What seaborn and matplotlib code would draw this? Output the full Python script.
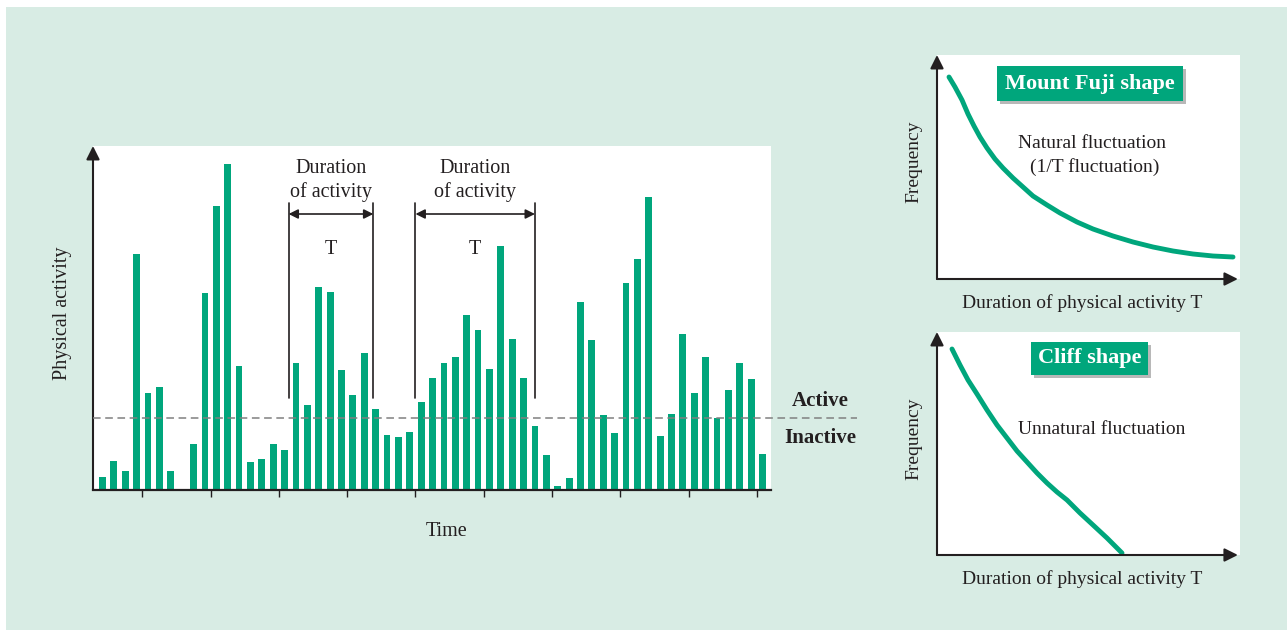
import matplotlib
matplotlib.use("Agg")
import matplotlib.pyplot as plt
import seaborn as sns
from matplotlib.patches import Rectangle

# bar heights, one slot per time step (0 = no bar)
activity = [13, 29, 19, 236, 97, 103, 19, 0, 46, 197, 284, 326, 124, 28, 31, 46, 40,
            127, 85, 203, 198, 120, 95, 137, 81, 55, 53, 58, 88, 112, 127, 133, 175,
            160, 121, 244, 151, 112, 64, 35, 4, 12, 188, 150, 75, 57, 207, 231, 293,
            54, 76, 156, 97, 133, 72, 100, 127, 111, 36]
time_steps = list(range(len(activity)))
threshold = 72
tick_slots = [3.5, 9.5, 15.5, 21.5, 27.5, 33.5, 39.5, 45.5, 51.5, 57.5]
# "Duration of activity" brackets (start slot, end slot)
spans = [(16.35, 23.8), (27.5, 38.0)]

# right panels: frequency vs duration
fuji_t = [12, 18, 25, 31, 37, 43, 50, 58, 66, 76, 86, 96, 110, 123, 140, 156, 176,
          196, 216, 236, 256, 276, 296]
fuji_f = [202, 192, 179, 165, 153, 142, 131, 120, 111, 101, 92, 83, 74, 66, 57, 50,
          43, 37, 32, 28, 25, 23, 22]
cliff_t = [15, 23, 31, 40, 50, 60, 70, 80, 90, 100, 110, 120, 130, 143, 156, 170, 185]
cliff_f = [206, 190, 175, 161, 145, 130, 117, 104, 93, 82, 72, 63, 55, 42, 30, 17, 2]

GREEN = '#00a67c'
BG = '#d8ece4'
INK = '#231f20'

sns.set_style("white")
plt.rcParams['font.family'] = ['Liberation Serif', 'DejaVu Serif']
plt.rcParams['text.color'] = INK

W, H = 1287, 630
fig = plt.figure(figsize=(W / 100, H / 100), dpi=100)
fig.patch.set_facecolor('white')
fig.patches.append(Rectangle((6 / W, 0), 1, (H - 7) / H, transform=fig.transFigure,
                             facecolor=BG, edgecolor='none', zorder=-10))


def fx(px):
    return px / W


def fy(py):
    return 1 - py / H


def axes_at(x0, y0, x1, y1):
    # pixel box (top-left origin) -> axes
    return fig.add_axes([fx(x0), fy(y1), fx(x1 - x0), (y1 - y0) / H])


def fig_box(x0, y0, x1, y1, color, z, alpha=1.0):
    fig.patches.append(Rectangle((fx(x0), fy(y1)), fx(x1 - x0), (y1 - y0) / H,
                                 transform=fig.transFigure, facecolor=color,
                                 edgecolor='none', zorder=z, alpha=alpha))


def axis_arrow(ax, xy, xytext):
    ax.annotate('', xy=xy, xytext=xytext, xycoords='axes fraction',
                textcoords='axes fraction',
                arrowprops=dict(arrowstyle='-|>', color=INK, lw=1.5,
                                mutation_scale=20, shrinkA=0, shrinkB=0))


# ---- main bar chart ----
ax = axes_at(93, 146, 771, 490)
ax.set_facecolor('white')
sns.barplot(x=time_steps, y=activity, color=GREEN, saturation=1, width=0.6,
            linewidth=0, ax=ax)
ax.set_xlim(-0.835, 58.74)
ax.set_ylim(0, 344)
ax.set_xticks(tick_slots)
ax.set_xticklabels([])
ax.set_yticks([])
ax.set_xlabel('')
ax.set_ylabel('')
for s in ['top', 'right', 'left']:
    ax.spines[s].set_visible(False)
ax.spines['bottom'].set_linewidth(1.6)
ax.spines['bottom'].set_color(INK)
ax.tick_params(axis='x', direction='out', length=5, width=1, color=INK, bottom=True)
axis_arrow(ax, (0, 1.0), (0, 0))

ax.axhline(threshold, xmin=0, xmax=1.127, color='#808080', lw=1.1,
           ls=(0, (5, 3)), clip_on=False, zorder=3)
ax.text(63.05, 89, 'Active', ha='center', va='center', fontsize=15, fontweight='bold')
ax.text(63.05, 52, 'Inactive', ha='center', va='center', fontsize=15, fontweight='bold')

for a, b in spans:
    for x in (a, b):
        ax.plot([x, x], [92, 287], color=INK, lw=1.2)
    ax.annotate('', xy=(b, 276), xytext=(a, 276),
                arrowprops=dict(arrowstyle='<|-|>', color=INK, lw=1.2,
                                mutation_scale=14, shrinkA=0, shrinkB=0))
    mid = (a + b) / 2
    ax.text(mid, 322, 'Duration', ha='center', va='center', fontsize=14.5)
    ax.text(mid, 298, 'of activity', ha='center', va='center', fontsize=14.5)
    ax.text(mid, 241, 'T', ha='center', va='center', fontsize=14.5)

fig.text(fx(62), fy(313), 'Physical activity', rotation=90, ha='center', va='center',
         fontsize=14.5)
fig.text(fx(447), fy(531), 'Time', ha='center', va='center', fontsize=14.5)


# ---- right panels ----
def shape_panel(y0, y1, t, f, title, title_box, notes):
    pax = axes_at(937, y0, 1240, y1)
    pax.set_facecolor('white')
    sns.lineplot(x=t, y=f, color=GREEN, lw=3.5, ax=pax)
    pax.set_xlim(0, 303)
    pax.set_ylim(0, y1 - y0)
    pax.set_xticks([])
    pax.set_yticks([])
    pax.set_xlabel('')
    pax.set_ylabel('')
    for s in pax.spines.values():
        s.set_visible(False)
    axis_arrow(pax, (0, 1.0), (0, 0))
    axis_arrow(pax, (0.993, 0), (0, 0))
    fig.text(fx(914), fy((y0 + y1) / 2 - 5), 'Frequency', rotation=90, ha='center',
             va='center', fontsize=14)
    fig.text(fx(1082), fy(y1 + 24), 'Duration of physical activity T', ha='center',
             va='center', fontsize=14)
    bx0, by0, bx1, by1 = title_box
    # soft drop shadow, then the green label box
    fig_box(bx0 + 3, by0 + 3, bx1 + 3, by1 + 3, '#9a9a9a', 5, alpha=0.7)
    fig_box(bx0, by0, bx1, by1, GREEN, 6)
    fig.text(fx((bx0 + bx1) / 2), fy((by0 + by1) / 2), title, ha='center',
             va='center', fontsize=16, fontweight='bold', color='white', zorder=7)
    for nx, ny, s in notes:
        fig.text(fx(nx), fy(ny), s, ha='center', va='center', fontsize=14)


shape_panel(55, 279, fuji_t, fuji_f, 'Mount Fuji shape', (997, 66, 1183, 101),
            [(1092, 144, 'Natural fluctuation'), (1095, 167, '(1/T fluctuation)')])
shape_panel(332, 555, cliff_t, cliff_f, 'Cliff shape', (1031, 342, 1148, 375),
            [(1102, 430, 'Unnatural fluctuation')])

fig.savefig('out.png', dpi=100, facecolor=fig.get_facecolor())
